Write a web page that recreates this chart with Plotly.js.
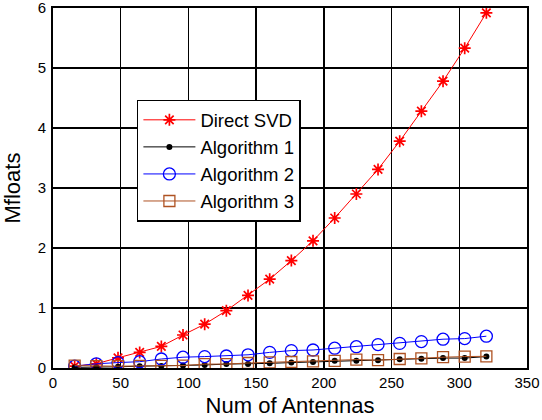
<!DOCTYPE html>
<html>
<head>
<meta charset="utf-8">
<script src="https://cdn.plot.ly/plotly-3.0.1.min.js"></script>
<style>html,body{margin:0;padding:0;background:#fff;}#chart{width:542px;height:420px;}</style>
</head>
<body>
<div id="chart"></div>
<script>
const antennas = [16,32,48,64,80,96,112,128,144,160,176,192,208,224,240,256,272,288,304,320];
const directSVD = [0.03,0.07,0.17,0.26,0.36,0.55,0.73,0.955,1.21,1.48,1.79,2.12,2.50,2.90,3.31,3.78,4.28,4.78,5.33,5.92];
const algorithm1 = [0.01,0.01,0.02,0.03,0.035,0.04,0.05,0.065,0.065,0.077,0.09,0.10,0.12,0.12,0.13,0.145,0.155,0.165,0.165,0.19];
const algorithm2 = [0.03,0.07,0.09,0.105,0.15,0.18,0.19,0.20,0.22,0.26,0.29,0.30,0.33,0.355,0.39,0.41,0.44,0.48,0.49,0.53];
const algorithm3 = [0.04,0.03,0.03,0.035,0.035,0.04,0.065,0.065,0.083,0.095,0.10,0.11,0.12,0.14,0.13,0.15,0.16,0.18,0.19,0.195];
const seriesNames = ['Direct SVD','Algorithm 1','Algorithm 2','Algorithm 3'];

const font = 'Arial, "Liberation Sans", sans-serif';
const brown = '#ae5222';

const traces = [
  {x: antennas, y: directSVD, name: seriesNames[0], mode: 'lines+markers',
   line: {color: '#ff0000', width: 1}, marker: {symbol: 'asterisk-open', size: 10, color: '#ff0000', line: {color: '#ff0000', width: 1.7}}},
  {x: antennas, y: algorithm1, name: seriesNames[1], mode: 'lines+markers',
   line: {color: '#000000', width: 1}, marker: {symbol: 'circle', size: 6, color: '#000000'}},
  {x: antennas, y: algorithm2, name: seriesNames[2], mode: 'lines+markers',
   line: {color: '#0000ff', width: 1}, marker: {symbol: 'circle-open', size: 12, color: '#0000ff', line: {color: '#0000ff', width: 1.3}}},
  {x: antennas, y: algorithm3, name: seriesNames[3], mode: 'lines+markers',
   line: {color: brown, width: 1}, marker: {symbol: 'square-open', size: 11, color: brown, line: {color: brown, width: 1.3}}}
];

const layout = {
  width: 542, height: 420,
  margin: {l: 53, r: 15, t: 8, b: 52},
  paper_bgcolor: '#ffffff', plot_bgcolor: '#ffffff',
  font: {family: font, color: '#000000', size: 15},
  showlegend: true,
  legend: {x: 0.177, y: 0.745, xanchor: 'left', yanchor: 'top',
    bgcolor: '#ffffff', bordercolor: '#000000', borderwidth: 1.5,
    itemwidth: 52,
    font: {family: font, size: 18.5, color: '#000000'}},
  xaxis: {
    range: [0, 350], dtick: 50, tick0: 0,
    showgrid: true, gridcolor: '#000000', gridwidth: 1.5,
    showline: true, linecolor: '#000000', linewidth: 2, mirror: true,
    zeroline: false, ticks: '', ticklabeloverflow: 'allow',
    tickfont: {family: font, size: 15, color: '#000000'},
    title: {text: 'Num of Antennas', font: {family: font, size: 22, color: '#000000'}, standoff: 8}
  },
  yaxis: {
    range: [-0.0001, 6.0001], dtick: 1, tick0: 0,
    showgrid: true, gridcolor: '#000000', gridwidth: 1.5,
    showline: true, linecolor: '#000000', linewidth: 2, mirror: true,
    zeroline: false, ticks: '', ticklabeloverflow: 'allow', ticklabelstandoff: 2,
    tickfont: {family: font, size: 15, color: '#000000'},
    title: {text: 'Mfloats', font: {family: font, size: 22, color: '#000000'}, standoff: 12}
  }
};

Plotly.newPlot('chart', traces, layout, {displayModeBar: false, staticPlot: true});
</script>
</body>
</html>
